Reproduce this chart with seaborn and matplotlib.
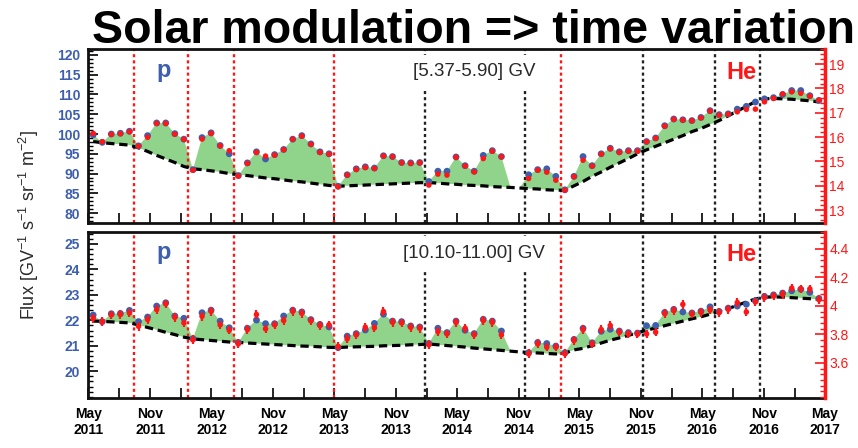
import numpy as np
import pandas as pd
import matplotlib
matplotlib.use("Agg")
import matplotlib.pyplot as plt
import matplotlib.dates as mdates
from matplotlib.ticker import MultipleLocator
import seaborn as sns

# ---------------- data ----------------
bartels_rotations = list(range(2426, 2507))      # BR 2426 (May 15 2011) .. BR 2506
missing_rotations = [2472, 2473]

# [5.37-5.90] GV
p_low = [99.8, 97.9, 100.0, 100.2, 100.7, 97.0, 99.6, 102.8, 102.8, 100.1,
         98.7, 91.0, 99.1, 100.3, 97.1, 95.0, 89.5, 92.7, 95.5, 93.7,
         94.8, 96.1, 98.7, 99.6, 97.5, 95.5, 95.0, 86.8, 89.7, 91.2,
         91.7, 91.4, 94.5, 94.3, 92.8, 92.7, 92.8, 88.0, 90.6, 90.6,
         94.2, 92.0, 90.6, 94.6, 95.8, 94.3,
         89.7, 91.0, 91.2, 89.3, 85.9, 89.3, 94.3, 92.0, 95.0, 96.4,
         95.5, 95.8, 95.8, 98.1, 99.0, 102.1, 103.8, 103.6, 103.4, 104.2,
         105.9, 104.9, 105.1, 106.3, 107.0, 108.1, 108.9, 109.2, 110.0, 111.0,
         111.0, 109.7, 108.5]
he_low = [16.15, 15.81, 16.11, 16.14, 16.22, 15.63, 15.99, 16.56, 16.56, 16.12,
          15.91, 14.64, 15.92, 16.15, 15.64, 15.44, 14.40, 14.92, 15.37, 15.22,
          15.26, 15.48, 15.91, 16.04, 15.70, 15.37, 15.30, 13.96, 14.44, 14.67,
          14.75, 14.71, 15.22, 15.19, 14.94, 14.92, 14.94, 14.03, 14.48, 14.44,
          15.17, 14.81, 14.57, 15.12, 15.42, 15.19,
          14.30, 14.64, 14.56, 14.23, 13.82, 14.37, 15.05, 14.81, 15.30, 15.52,
          15.37, 15.42, 15.42, 15.81, 15.95, 16.45, 16.73, 16.70, 16.67, 16.79,
          17.07, 16.90, 16.94, 17.04, 17.14, 17.15, 17.45, 17.59, 17.77, 17.86,
          17.80, 17.68, 17.52]
base_low = [98.1, 97.8, 97.6, 97.4, 97.2, 96.5, 95.6, 94.6, 93.7, 92.8,
            91.8, 91.2, 91.0, 90.7, 90.4, 90.0, 89.7, 89.5, 89.2, 88.9,
            88.7, 88.4, 88.1, 87.9, 87.6, 87.3, 87.0, 86.8, 86.9, 87.0,
            87.1, 87.2, 87.3, 87.4, 87.5, 87.6, 87.7, 87.7, 87.6, 87.4,
            87.3, 87.1, 87.0, 86.9, 86.7, 86.6, 86.5, 86.35,
            86.2, 86.1, 85.9, 85.8, 85.8, 86.9, 88.0, 89.3, 90.4, 91.6,
            92.7, 93.8, 95.0, 96.0, 96.9, 97.8, 98.7, 99.6, 100.6, 101.4,
            102.4, 103.4, 104.6, 105.8, 107.0, 108.2, 108.9, 109.0, 108.9, 108.8,
            108.6, 108.4, 108.1]

# [10.10-11.00] GV
p_high = [22.21, 21.95, 22.26, 22.27, 22.39, 21.95, 22.13, 22.56, 22.69, 22.17,
          22.08, 21.28, 22.30, 22.40, 21.97, 21.71, 21.13, 21.69, 22.01, 21.87,
          21.87, 22.17, 22.40, 22.33, 22.03, 21.84, 21.74, 20.93, 21.38, 21.48,
          21.62, 21.88, 22.24, 21.97, 21.95, 21.78, 21.74, 21.09, 21.69, 21.52,
          21.97, 21.61, 21.48, 22.04, 21.97, 21.58,
          20.73, 21.13, 21.09, 20.99, 20.73, 21.25, 21.69, 21.12, 21.57, 21.65,
          21.58, 21.52, 21.50, 21.79, 21.80, 22.31, 22.43, 22.33, 22.29, 22.36,
          22.53, 22.35, 22.48, 22.56, 22.63, 22.77, 22.94, 23.00, 23.07, 23.16,
          23.22, 23.10, 22.86]
he_high = [3.913, 3.890, 3.937, 3.939, 3.950, 3.857, 3.904, 3.974, 4.014, 3.920,
           3.881, 3.762, 3.927, 3.962, 3.867, 3.829, 3.734, 3.834, 3.939, 3.839,
           3.867, 3.897, 3.962, 3.948, 3.895, 3.862, 3.867, 3.715, 3.769, 3.797,
           3.850, 3.846, 3.960, 3.885, 3.881, 3.850, 3.843, 3.727, 3.820, 3.804,
           3.885, 3.843, 3.797, 3.897, 3.885, 3.797,
           3.664, 3.734, 3.710, 3.710, 3.664, 3.757, 3.834, 3.733, 3.834, 3.862,
           3.815, 3.804, 3.801, 3.803, 3.815, 3.946, 3.967, 4.010, 3.943, 3.955,
           3.971, 3.953, 3.976, 4.023, 3.957, 4.028, 4.058, 4.069, 4.081, 4.124,
           4.119, 4.119, 4.044]
he_high_err = 0.03
base_high = [21.97, 21.96, 21.94, 21.92, 21.90, 21.82, 21.72, 21.63, 21.53, 21.44,
             21.34, 21.27, 21.24, 21.21, 21.18, 21.15, 21.13, 21.11, 21.09, 21.07,
             21.05, 21.03, 21.01, 20.99, 20.98, 20.96, 20.94, 20.93, 20.95, 20.96,
             20.97, 20.98, 21.00, 21.01, 21.02, 21.04, 21.05, 21.07, 21.04, 21.01,
             20.98, 20.95, 20.91, 20.88, 20.85, 20.82, 20.79, 20.76,
             20.74, 20.72, 20.70, 20.68, 20.71, 20.84, 20.90, 21.01, 21.11, 21.22,
             21.31, 21.41, 21.51, 21.61, 21.70, 21.79, 21.88, 21.97, 22.06, 22.14,
             22.24, 22.34, 22.46, 22.59, 22.72, 22.84, 22.91, 22.92, 22.91, 22.89,
             22.87, 22.85, 22.82]

red_event_dates = ["2011-09-13", "2012-02-22", "2012-07-07", "2013-05-01", "2015-03-07"]
black_event_dates = ["2014-01-26", "2014-11-20", "2015-11-07", "2016-06-07", "2016-10-21"]

xtick_dates = ["2011-05-01", "2011-11-01", "2012-05-01", "2012-11-01", "2013-05-01",
               "2013-11-01", "2014-05-01", "2014-11-01", "2015-05-01", "2015-11-01",
               "2016-05-01", "2016-11-01", "2017-05-01"]
xtick_labels = ["May\n2011", "Nov\n2011", "May\n2012", "Nov\n2012", "May\n2013",
                "Nov\n2013", "May\n2014", "Nov\n2014", "May\n2015", "Nov\n2015",
                "May\n2016", "Nov\n2016", "May\n2017"]

top_left_ticks = [80, 85, 90, 95, 100, 105, 110, 115, 120]
top_right_ticks = [13, 14, 15, 16, 17, 18, 19]
bot_left_ticks = [20, 21, 22, 23, 24, 25]
bot_right_ticks = [3.6, 3.8, 4.0, 4.2, 4.4]
bot_right_labels = ["3.6", "3.8", "4", "4.2", "4.4"]

# ---------------- style ----------------
sns.set_style("ticks")
plt.rcParams['font.family'] = ['Liberation Sans', 'DejaVu Sans']
plt.rcParams['mathtext.fontset'] = 'custom'
plt.rcParams['mathtext.rm'] = 'Liberation Sans'
plt.rcParams['mathtext.it'] = 'Liberation Sans:italic'
plt.rcParams['mathtext.bf'] = 'Liberation Sans:bold'

BLUE = "#3d5fae"
RED = "#ff1616"
GREEN = "#8fd48a"
TXT = "#2a2a2a"

br = np.array(bartels_rotations)
dates = pd.Timestamp("2011-05-15") + pd.to_timedelta((br - 2426) * 27, unit="D")
x = mdates.date2num(dates.values)
valid = ~np.isin(br, missing_rotations)
xv = x[valid]


def full(vals):
    arr = np.full(len(br), np.nan)
    arr[valid] = vals
    return arr


def dnum(s):
    return mdates.date2num(pd.Timestamp(s))


fig = plt.figure(figsize=(8.58, 4.48), dpi=100)
ax1 = fig.add_axes([0.1031, 0.5022, 0.8584, 0.3884])
ax2 = fig.add_axes([0.1031, 0.1127, 0.8584, 0.3701])


def panel(ax, p, he, base, ylim, hlim, lticks, llabels, lminor, rticks, rlabels, rminor,
          label, show_x, he_err=None):
    p_full = full(p)
    base = np.asarray(base, float)
    upper = np.where(np.isnan(p_full), base, p_full)
    ax.fill_between(x, base, upper, where=upper >= base, interpolate=True,
                    color=GREEN, lw=0, zorder=1)
    for d in red_event_dates:
        ax.axvline(dnum(d), color=RED, lw=1.7, ls=(0, (1.3, 1.3)), zorder=2)
    for d in black_event_dates:
        ax.axvline(dnum(d), color="#222222", lw=1.7, ls=(0, (1.3, 1.3)), zorder=2)
    sns.lineplot(x=x, y=base, ax=ax, color="black", lw=2.3, estimator=None,
                 linestyle=(0, (2.6, 1.5)), zorder=3)
    sns.scatterplot(x=xv, y=np.asarray(p), ax=ax, color=BLUE, s=24,
                    edgecolor="none", zorder=4)
    ax.set_ylim(*ylim)
    ax.set_xlim(dnum("2011-05-01"), dnum("2017-05-01"))
    ax.set_yticks(lticks, labels=llabels, fontweight="bold", color=BLUE, fontsize=10)
    ax.yaxis.set_minor_locator(MultipleLocator(lminor))
    ax.set_xticks([dnum(d) for d in xtick_dates],
                  labels=xtick_labels if show_x else [""] * len(xtick_dates),
                  fontweight="bold", fontsize=10)
    ax.xaxis.set_minor_locator(mdates.MonthLocator(bymonth=[2, 8]))
    ax.tick_params(axis="x", which="both", direction="in", length=7, width=1.2,
                   top=False, bottom=True, pad=7, colors="black")
    ax.tick_params(axis="y", which="major", direction="in", length=7, width=1.2,
                   right=False, pad=6, color="black")
    ax.tick_params(axis="y", which="minor", direction="in", length=3.5, width=1.0,
                   right=False, color="black")
    for s in ("left", "bottom", "top"):
        ax.spines[s].set_linewidth(2.0)
        ax.spines[s].set_color("#111111")
    ax.spines["right"].set_visible(False)
    ax.set_xlabel("")
    ax.set_ylabel("")

    axh = ax.twinx()
    if he_err is not None:
        axh.errorbar(xv, he, yerr=he_err, fmt="none", ecolor=RED, elinewidth=1.6,
                     capsize=0, zorder=4)
    sns.scatterplot(x=xv, y=np.asarray(he), ax=axh, color=RED, s=16,
                    edgecolor="none", zorder=5)
    axh.set_ylim(*hlim)
    axh.set_xlim(dnum("2011-05-01"), dnum("2017-05-01"))
    axh.set_yticks(rticks, labels=rlabels, color=RED, fontsize=10)
    axh.yaxis.set_minor_locator(MultipleLocator(rminor))
    axh.tick_params(axis="y", which="major", direction="in", length=7, width=1.2,
                    color=RED, pad=3)
    axh.tick_params(axis="y", which="minor", direction="in", length=3.5, width=1.0,
                    color=RED)
    for s in ("left", "bottom", "top"):
        axh.spines[s].set_visible(False)
    axh.spines["right"].set_color(RED)
    axh.spines["right"].set_linewidth(2.5)
    axh.set_xlabel("")
    axh.set_ylabel("")

    ax.text(0.1016, 0.875, "p", transform=ax.transAxes, color=BLUE, fontsize=17,
            fontweight="bold", ha="center", va="center")
    axh.text(0.887, 0.865, "He", transform=ax.transAxes, color=RED, fontsize=17,
             fontweight="bold", ha="center", va="center")
    axh.text(0.524, 0.87, label, transform=ax.transAxes,
             color=TXT, fontsize=13.5, ha="center", va="center",
             bbox=dict(boxstyle="square,pad=0.45", facecolor="white", edgecolor="none"))


panel(ax1, p_low, he_low, base_low, (77.5, 121.5), (12.47, 19.62),
      top_left_ticks, [str(t) for t in top_left_ticks], 1,
      top_right_ticks, [str(t) for t in top_right_ticks], 0.2,
      "[5.37-5.90] GV", False)
panel(ax2, p_high, he_high, base_high, (18.97, 25.48), (3.357, 4.52),
      bot_left_ticks, [str(t) for t in bot_left_ticks], 0.2,
      bot_right_ticks, bot_right_labels, 0.04,
      "[10.10-11.00] GV", True, he_err=he_high_err)

fig.text(0.5524, 0.903, "Solar modulation => time variation", ha="center",
         va="baseline", fontsize=33.5, fontweight="bold", color="black")
fig.text(0.034, 0.497, r"Flux [GV$^{-1}$ s$^{-1}$ sr$^{-1}$ m$^{-2}$]", rotation=90,
         ha="center", va="center", fontsize=13, color=TXT)

fig.savefig("out.png", dpi=100)
